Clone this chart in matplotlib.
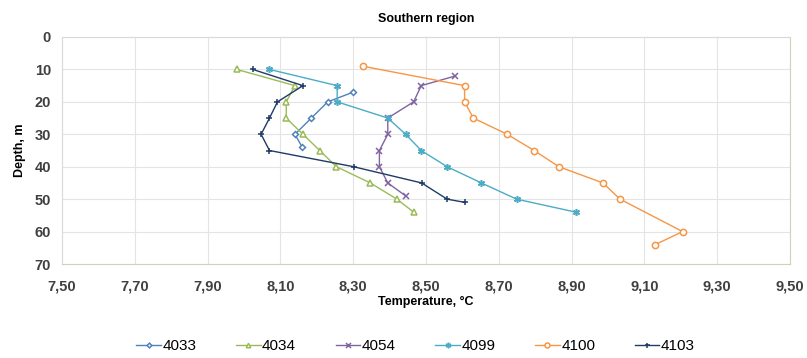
import matplotlib
matplotlib.use('Agg')
from matplotlib import pyplot as plt
from matplotlib.ticker import FuncFormatter, MultipleLocator

plt.rcParams['font.family'] = ['Liberation Sans', 'DejaVu Sans']

# temperature (°C) vs depth (m) per station
t_4033 = [8.30, 8.23, 8.185, 8.14, 8.16]
d_4033 = [17, 20, 25, 30, 34]

t_4034 = [7.98, 8.14, 8.116, 8.116, 8.162, 8.208, 8.254, 8.347, 8.42, 8.466]
d_4034 = [10, 15, 20, 25, 30, 35, 40, 45, 50, 54]

t_4054 = [8.581, 8.487, 8.466, 8.395, 8.395, 8.372, 8.372, 8.395, 8.444]
d_4054 = [12, 15, 20, 25, 30, 35, 40, 45, 49]

t_4099 = [8.07, 8.256, 8.256, 8.395, 8.444, 8.487, 8.558, 8.652, 8.749, 8.911]
d_4099 = [10, 15, 20, 25, 30, 35, 40, 45, 50, 54]

t_4100 = [8.326, 8.606, 8.606, 8.63, 8.723, 8.797, 8.865, 8.986, 9.033, 9.205, 9.13]
d_4100 = [9, 15, 20, 25, 30, 35, 40, 45, 50, 60, 64]

t_4103 = [8.024, 8.162, 8.092, 8.07, 8.047, 8.07, 8.301, 8.488, 8.558, 8.607]
d_4103 = [10, 15, 20, 25, 30, 35, 40, 45, 50, 51]

x_ticks = [7.5, 7.7, 7.9, 8.1, 8.3, 8.5, 8.7, 8.9, 9.1, 9.3, 9.5]

series = [
    ('4033', t_4033, d_4033, '#4f81bd', 'D', 3),
    ('4034', t_4034, d_4034, '#9bbb59', '^', 4),
    ('4054', t_4054, d_4054, '#8064a2', 'x', 4.5),
    ('4099', t_4099, d_4099, '#4bacc6', (6, 2, 0), 5),
    ('4100', t_4100, d_4100, '#f79646', 'o', 4.5),
    ('4103', t_4103, d_4103, '#1f3b66', '+', 4.5),
]

fig = plt.figure(figsize=(8.07, 3.58), dpi=100)
ax = fig.add_axes([62 / 807, 1 - 264 / 358, (790 - 62) / 807, (264 - 37) / 358])

for name, t, d, c, m, ms in series:
    ax.plot(t, d, color=c, lw=1, marker=m, ms=ms, mfc='white', mec=c,
            mew=1.1, label=name)

ax.set_xlim(7.5, 9.5)
ax.set_ylim(70, 0)
ax.set_xticks(x_ticks)
ax.yaxis.set_major_locator(MultipleLocator(10))
ax.xaxis.set_major_formatter(FuncFormatter(lambda v, p: ('%.2f' % v).replace('.', ',')))
ax.grid(True, color='#e4e4e4', lw=0.8)
ax.set_axisbelow(True)
for s in ax.spines.values():
    s.set_color('#d9d9d9')
ax.spines['right'].set_color('#c9d6b5')
ax.spines['bottom'].set_color('#c9d6b5')
ax.tick_params(length=0, labelsize=10.5)
ax.tick_params(axis='x', pad=11)
ax.tick_params(axis='y', pad=8)
for lab in ax.get_xticklabels() + ax.get_yticklabels():
    lab.set_fontweight('bold')
    lab.set_color('#404040')

ax.set_title('Southern region', fontsize=9, fontweight='bold', pad=11)
ax.set_xlabel('Temperature, °C', fontsize=9, fontweight='bold', labelpad=2)
ax.set_ylabel('Depth, m', fontsize=9, fontweight='bold', labelpad=6)

fig.legend(loc='lower center', bbox_to_anchor=(0.515, -0.025), ncol=6,
           frameon=False, fontsize=11, columnspacing=2.6, handlelength=1.6,
           handletextpad=0.1, markerscale=0.8)

plt.savefig('out.png', dpi=100)
